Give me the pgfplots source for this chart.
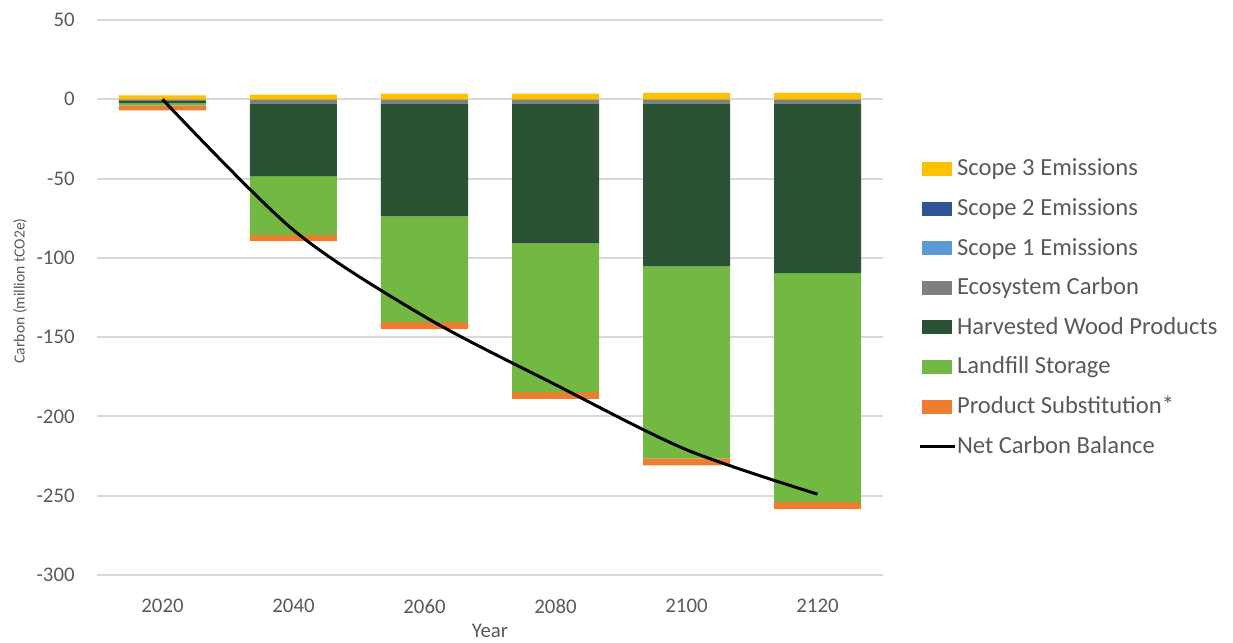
\documentclass[border=0pt]{standalone}
\usepackage{pgfplots}
\pgfplotsset{compat=1.18}
\usepackage{pgfplotstable}
\usepackage{fontspec}
\setmainfont{Carlito}
\definecolor{cS3}{HTML}{FFC000}
\definecolor{cS2}{HTML}{2F5597}
\definecolor{cS1}{HTML}{5B9BD5}
\definecolor{cEco}{HTML}{808080}
\definecolor{cHWP}{HTML}{2B5234}
\definecolor{cLand}{HTML}{72B843}
\definecolor{cSub}{HTML}{ED7D31}
\definecolor{gridc}{HTML}{D9D9D9}
\definecolor{textc}{HTML}{595959}
\pgfplotsset{netlegend/.style={legend image code/.code={\draw[##1] (-1pt,0pt) -- (16.5pt,0pt);}}}
\pgfplotstableread{
x s3 s2 s1 eco hwp land sub
0 2.5 0 0 -1 -1.5 -1.5 -3
1 3 0 0 -2.5 -46 -37.2 -3.8
2 3.5 0 0 -2.5 -71.3 -66.8 -4.4
3 3.5 0 0 -2.5 -88.3 -93.9 -4.3
4 4 0 0 -2.5 -102.8 -121.1 -4.4
5 4 0 0 -2.5 -107.2 -144.3 -4.5
}\bars
\pgfplotstableread{
x net
0 0
1 -82.5
2 -137
3 -180
4 -221
5 -249
}\netdata
\begin{document}
\begin{tikzpicture}
\useasboundingbox (-48.5pt,-34pt) rectangle (568pt,287.5pt);
\begin{axis}[
  scale only axis, width=393pt, height=277.5pt,
  xmin=-0.5, xmax=5.5, ymin=-300, ymax=50,
  ybar stacked, bar width=43.5pt,
  xtick={0,...,5}, xticklabels={2020,2040,2060,2080,2100,2120},
  ytick={-300,-250,...,50},
  ymajorgrids, grid style={color=gridc, line width=1pt},
  axis line style={draw=none}, major tick length=0pt,
  tick label style={font=\fontsize{10.4}{12}\selectfont, text=textc},
  /pgf/number format/assume math mode=true,
  yticklabel style={inner sep=0pt, xshift=-11pt},
  xticklabel style={inner sep=0pt, yshift=-12pt},
  xlabel={Year}, ylabel={Carbon (million tCO2e)},
  xlabel style={font=\fontsize{10.4}{12}\selectfont, text=textc, inner sep=0pt, at={(axis description cs:0.5,-0.1)}, anchor=center},
  ylabel style={font=\fontsize{7.8}{9}\selectfont, text=textc, at={(axis description cs:-0.098,0.512)}, anchor=center},
  legend cell align=left,
  legend style={at={(axis description cs:1.0446,0.755)}, anchor=north west, draw=none, fill=none,
    inner sep=0pt, outer sep=0pt, row sep=6.8pt, column sep=0.5pt,
    font=\fontsize{12.3}{14}\selectfont,
    nodes={inner sep=0pt, text height=10pt, text depth=3pt, text=textc}},
  legend image code/.code={\fill[#1] (0pt,-3.5pt) rectangle (15pt,3.5pt);},
]
\addplot[fill=cS3, draw=none] table[x=x,y=s3]{\bars}; \addlegendentry{Scope 3 Emissions}
\addplot[fill=cS2, draw=none] table[x=x,y=s2]{\bars}; \addlegendentry{Scope 2 Emissions}
\addplot[fill=cS1, draw=none] table[x=x,y=s1]{\bars}; \addlegendentry{Scope 1 Emissions}
\addplot[fill=cEco, draw=none] table[x=x,y=eco]{\bars}; \addlegendentry{Ecosystem Carbon}
\addplot[fill=cHWP, draw=none] table[x=x,y=hwp]{\bars}; \addlegendentry{Harvested Wood Products}
\addplot[fill=cLand, draw=none] table[x=x,y=land]{\bars}; \addlegendentry{Landfill Storage}
\addplot[fill=cSub, draw=none] table[x=x,y=sub]{\bars}; \addlegendentry{Product Substitution*}
\addlegendimage{black, line width=1.5pt, netlegend}
\addlegendentry{Net Carbon Balance}
\end{axis}
\begin{axis}[
  scale only axis, width=393pt, height=277.5pt,
  xmin=-0.5, xmax=5.5, ymin=-300, ymax=50, hide axis]
\addplot[black, line width=1.5pt, smooth] table[x=x,y=net]{\netdata};
\end{axis}
\end{tikzpicture}
\end{document}
